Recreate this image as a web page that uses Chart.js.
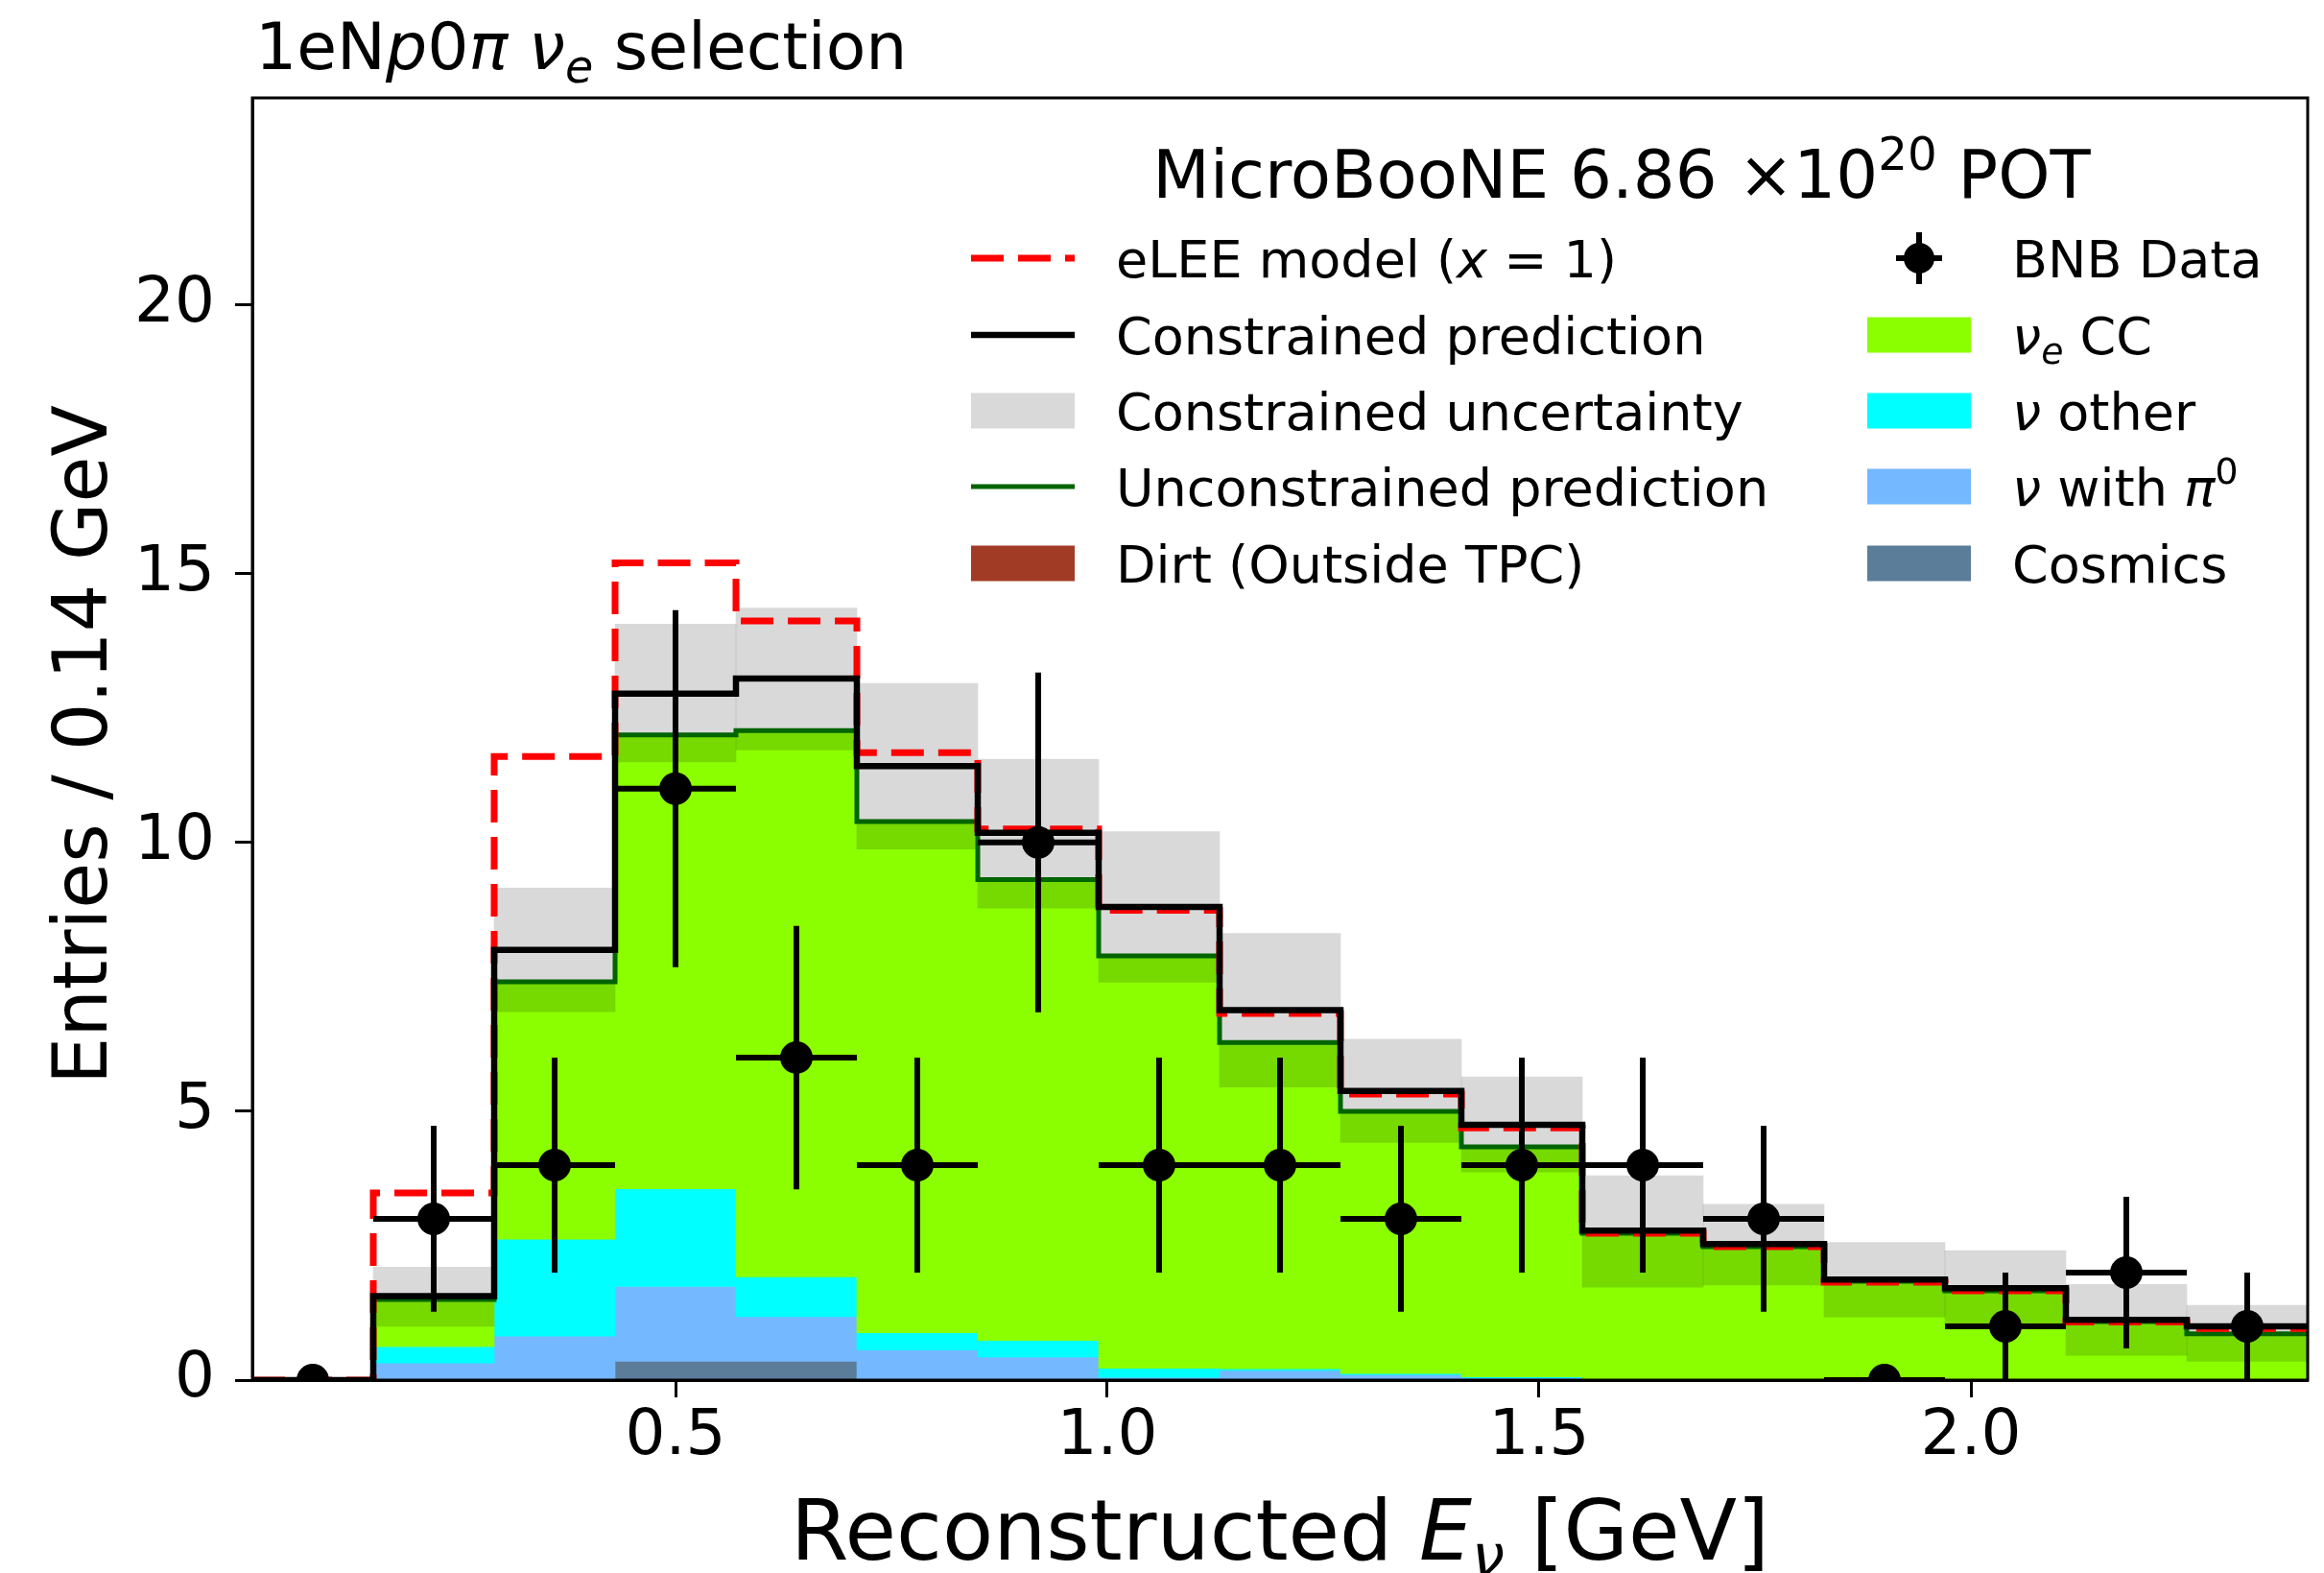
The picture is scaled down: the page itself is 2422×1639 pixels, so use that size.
<!DOCTYPE html>
<html>
<head>
<meta charset="utf-8">
<title>1eNp0π νe selection</title>
<script src="https://cdn.jsdelivr.net/npm/chart.js@4.4.1/dist/chart.umd.min.js"></script>
<style>
  html, body { margin: 0; padding: 0; background: #fff; }
  canvas { display: block; }
</style>
</head>
<body>
<canvas id="chart" width="2422" height="1639"></canvas>
<script>
// binning: 17 bins of 0.14 GeV
const binEdges   = [0.01, 0.15, 0.29, 0.43, 0.57, 0.71, 0.85, 0.99, 1.13, 1.27, 1.41, 1.55, 1.69, 1.83, 1.97, 2.11, 2.25, 2.39];
const binCentres = [0.08, 0.22, 0.36, 0.50, 0.64, 0.78, 0.92, 1.06, 1.20, 1.34, 1.48, 1.62, 1.76, 1.90, 2.04, 2.18, 2.32];
const binHalfWidth = 0.07;

// stacked MC components (entries per bin)
const cosmics = [0, 0, 0, 0.35, 0.35, 0, 0, 0, 0, 0, 0, 0, 0, 0, 0, 0, 0];
const nuPi0   = [0, 0.32, 0.82, 1.39, 0.83, 0.56, 0.43, 0.05, 0.18, 0.10, 0.04, 0, 0, 0, 0, 0, 0];
const nuOther = [0, 0.30, 1.80, 1.82, 0.74, 0.32, 0.31, 0.17, 0.03, 0.02, 0.02, 0, 0, 0, 0, 0, 0];
const nueCC   = [0, 0.88, 4.79, 8.44, 10.16, 9.53, 8.57, 7.67, 6.06, 4.88, 4.28, 2.73, 2.48, 1.84, 1.66, 1.09, 0.86];
const dirt    = [0, 0, 0, 0, 0, 0, 0, 0, 0, 0, 0, 0, 0, 0, 0, 0, 0];

// prediction lines
const unconstrained = [0, 1.50, 7.41, 12.00, 12.08, 10.39, 9.31, 7.89, 6.28, 5.00, 4.34, 2.73, 2.48, 1.84, 1.66, 1.09, 0.86];
const constrained   = [0, 1.56, 8.00, 12.77, 13.05, 11.42, 10.18, 8.80, 6.88, 5.38, 4.75, 2.78, 2.53, 1.87, 1.71, 1.12, 1.00];
const uncLow        = [0, 1.00, 6.85, 11.50, 11.72, 9.88, 8.78, 7.40, 5.45, 4.42, 3.87, 1.73, 1.77, 1.17, 1.03, 0.46, 0.35];
const uncHigh       = [0, 2.10, 9.15, 14.06, 14.36, 12.96, 11.55, 10.20, 8.31, 6.34, 5.64, 3.80, 3.27, 2.56, 2.41, 1.78, 1.39];
const eLEE          = [0, 3.48, 11.60, 15.20, 14.12, 11.67, 10.25, 8.74, 6.82, 5.32, 4.69, 2.73, 2.48, 1.82, 1.66, 1.08, 0.96];

// BNB data
const bnbData = [0, 3, 4, 11, 6, 4, 10, 4, 4, 3, 4, 4, 3, 0, 1, 2, 1];
const bnbErr  = [0, 1.73, 2, 3.32, 2.45, 2, 3.16, 2, 2, 1.73, 2, 2, 1.73, 0, 1, 1.41, 1];

// axes
const xTickValues = [0.5, 1.0, 1.5, 2.0];
const yTickValues = [0, 5, 10, 15, 20];
const xRange = [0.01, 2.39];
const yRange = [0, 23.85];

const FONT = "'DejaVu Sans', 'Noto Sans', sans-serif";
const COLORS = {
  nue: '#8bff00', other: '#00ffff', pi0: '#74b8ff', cosmic: '#5b7d9a', dirt: '#a23b26',
  band: 'rgba(0,0,0,0.15)', bandLegend: '#d9d9d9', green: '#006400', red: '#ff0000'
};

// floating bars for the stack, bottom to top
function buildStack() {
  const parts = [
    ['Cosmics', cosmics, COLORS.cosmic],
    ['ν with π0', nuPi0, COLORS.pi0],
    ['ν other', nuOther, COLORS.other],
    ['νe CC', nueCC, COLORS.nue],
    ['Dirt (Outside TPC)', dirt, COLORS.dirt]
  ];
  let base = binCentres.map(() => 0);
  return parts.map(([label, values, color], k) => {
    const data = binCentres.map((c, i) => ({ x: c, y: [base[i], base[i] + values[i]] }));
    base = base.map((b, i) => b + values[i]);
    return {
      type: 'bar', label, data, backgroundColor: color, borderWidth: 0,
      barPercentage: 1, categoryPercentage: 1, grouped: false, order: 10 - k
    };
  });
}

// histogram outline: one point per left edge plus the last right edge
function stepLine(label, values, color, width, dash, order) {
  const data = binEdges.map((e, i) => ({ x: e, y: values[Math.min(i, values.length - 1)] }));
  return {
    type: 'line', label, data, stepped: 'after', borderColor: color, borderWidth: width,
    borderDash: dash || [], pointRadius: 0, fill: false, order, borderCapStyle: 'butt'
  };
}

function errorBarData() {
  const pts = [];
  bnbData.forEach((d, i) => {
    const c = binCentres[i];
    if (bnbErr[i] > 0) {
      pts.push({ x: c, y: d - bnbErr[i] }, { x: c, y: d + bnbErr[i] }, { x: c, y: null });
    }
    pts.push({ x: c - binHalfWidth, y: d }, { x: c + binHalfWidth, y: d }, { x: c, y: null });
  });
  return pts;
}

// rich text: runs of [text, style]; style: i = italic, b = subscript, p = superscript
function drawRich(ctx, runs, x, y, size, align) {
  const parts = runs.map(([t, st = '']) => {
    const small = st.includes('b') || st.includes('p');
    const s = small ? size * 0.7 : size;
    const font = `${st.includes('i') ? 'italic ' : ''}${s}px ${FONT}`;
    ctx.font = font;
    const dy = st.includes('b') ? size * 0.2 : st.includes('p') ? -size * 0.42 : 0;
    return { t, font, dy, w: ctx.measureText(t).width };
  });
  const total = parts.reduce((a, p) => a + p.w, 0);
  let cx = align === 'center' ? x - total / 2 : align === 'right' ? x - total : x;
  ctx.textAlign = 'left';
  ctx.textBaseline = 'alphabetic';
  parts.forEach(p => { ctx.font = p.font; ctx.fillText(p.t, cx, y + p.dy); cx += p.w; });
}

const legendLeft = [
  { kind: 'dash', color: COLORS.red, label: [['eLEE model ('], ['x', 'i'], [' = 1)']] },
  { kind: 'line', color: '#000', width: 6.5, label: [['Constrained prediction']] },
  { kind: 'patch', color: COLORS.bandLegend, label: [['Constrained uncertainty']] },
  { kind: 'line', color: COLORS.green, width: 5, label: [['Unconstrained prediction']] },
  { kind: 'patch', color: COLORS.dirt, label: [['Dirt (Outside TPC)']] }
];
const legendRight = [
  { kind: 'data', label: [['BNB Data']] },
  { kind: 'patch', color: COLORS.nue, label: [['ν', 'i'], ['e', 'ib'], [' CC']] },
  { kind: 'patch', color: COLORS.other, label: [['ν', 'i'], [' other']] },
  { kind: 'patch', color: COLORS.pi0, label: [['ν', 'i'], [' with '], ['π', 'i'], ['0', 'p']] },
  { kind: 'patch', color: COLORS.cosmic, label: [['Cosmics']] }
];

const LEG = { rows: [269, 349, 428, 507, 587], col1: 1012, col2: 1946, handleW: 108, handleH: 37, gap: 43, size: 54 };

function drawHandle(ctx, item, x, cy) {
  ctx.save();
  if (item.kind === 'patch') {
    ctx.fillStyle = item.color;
    ctx.fillRect(x, cy - LEG.handleH / 2, LEG.handleW, LEG.handleH);
  } else if (item.kind === 'line' || item.kind === 'dash') {
    ctx.strokeStyle = item.color;
    ctx.lineWidth = item.width || 7;
    ctx.setLineDash(item.kind === 'dash' ? [34, 15] : []);
    ctx.beginPath(); ctx.moveTo(x, cy); ctx.lineTo(x + LEG.handleW, cy); ctx.stroke();
  } else if (item.kind === 'data') {
    const mx = x + LEG.handleW / 2;
    ctx.strokeStyle = '#000'; ctx.fillStyle = '#000'; ctx.lineWidth = 6;
    ctx.beginPath(); ctx.moveTo(mx, cy - 27); ctx.lineTo(mx, cy + 27);
    ctx.moveTo(mx - 24, cy); ctx.lineTo(mx + 24, cy); ctx.stroke();
    ctx.beginPath(); ctx.arc(mx, cy, 16, 0, Math.PI * 2); ctx.fill();
  }
  ctx.restore();
}

const decorations = {
  id: 'decorations',
  afterDatasetsDraw(chart) {
    const { ctx, chartArea: a } = chart;
    ctx.save();
    ctx.strokeStyle = '#000';
    ctx.lineWidth = 3;
    ctx.strokeRect(a.left, a.top, a.right - a.left, a.bottom - a.top);
    ctx.restore();
  },
  afterDraw(chart) {
    const { ctx, chartArea: a } = chart;
    ctx.save();
    ctx.fillStyle = '#000';
    // title above the frame
    drawRich(ctx, [['1eN'], ['p', 'i'], ['0'], ['π', 'i'], [' '], ['ν', 'i'], ['e', 'ib'], [' selection']], 266, 72, 68, 'left');
    // exposure label
    drawRich(ctx, [['MicroBooNE 6.86 ×10'], ['20', 'p'], [' POT']], 1690, 206, 69, 'center');
    // legend
    legendLeft.forEach((item, r) => {
      const cy = LEG.rows[r];
      drawHandle(ctx, item, LEG.col1, cy);
      drawRich(ctx, item.label, LEG.col1 + LEG.handleW + LEG.gap, cy + LEG.size * 0.364, LEG.size, 'left');
    });
    legendRight.forEach((item, r) => {
      const cy = LEG.rows[r];
      drawHandle(ctx, item, LEG.col2, cy);
      drawRich(ctx, item.label, LEG.col2 + LEG.handleW + LEG.gap, cy + LEG.size * 0.364, LEG.size, 'left');
    });
    // axis titles
    drawRich(ctx, [['Reconstructed '], ['E', 'i'], ['ν', 'ib'], [' [GeV]']], (a.left + a.right) / 2, 1625, 87, 'center');
    ctx.translate(111, (a.top + a.bottom) / 2 + 6);
    ctx.rotate(-Math.PI / 2);
    drawRich(ctx, [['Entries / 0.14 GeV']], 0, 0, 78, 'center');
    ctx.restore();
  }
};

const datasets = [
  {
    type: 'scatter', label: 'BNB Data', data: binCentres.map((c, i) => ({ x: c, y: bnbData[i] })),
    pointRadius: 17, pointBackgroundColor: '#000', pointBorderWidth: 0, clip: 0, order: 0
  },
  {
    type: 'line', label: 'BNB Data errors', data: errorBarData(), showLine: true, spanGaps: false,
    borderColor: '#000', borderWidth: 6, pointRadius: 0, fill: false, order: 1, borderCapStyle: 'butt'
  },
  stepLine('Constrained prediction', constrained, '#000', 6.5, null, 2),
  stepLine('eLEE model (x = 1)', eLEE, COLORS.red, 7, [34, 15], 3),
  stepLine('Unconstrained prediction', unconstrained, COLORS.green, 5, null, 4),
  {
    type: 'bar', label: 'Constrained uncertainty',
    data: binCentres.map((c, i) => ({ x: c, y: [uncLow[i], uncHigh[i]] })),
    backgroundColor: COLORS.band, borderWidth: 0, barPercentage: 1, categoryPercentage: 1,
    grouped: false, order: 5
  },
  ...buildStack()
];

// Chart.js 'before' steps run horizontally at the previous value first
datasets.forEach(d => { if (d.stepped) d.stepped = 'before'; });

new Chart(document.getElementById('chart'), {
  type: 'bar',
  data: { datasets },
  options: {
    responsive: false,
    devicePixelRatio: 1,
    animation: false,
    events: [],
    layout: { padding: { left: 0, right: 17, top: 102, bottom: 0 } },
    plugins: { legend: { display: false }, tooltip: { enabled: false }, title: { display: false } },
    scales: {
      x: {
        type: 'linear', min: xRange[0], max: xRange[1], offset: false,
        afterBuildTicks: axis => { axis.ticks = xTickValues.map(value => ({ value })); },
        afterFit: scale => { scale.height = 201; },
        ticks: { callback: v => Number(v).toFixed(1), color: '#000', padding: 2, maxRotation: 0,
                 font: { family: FONT, size: 66 } },
        grid: { drawOnChartArea: false, drawTicks: true, tickLength: 18, tickWidth: 3, tickColor: '#000', offset: false },
        border: { display: true, color: '#000', width: 3 }
      },
      y: {
        type: 'linear', min: yRange[0], max: yRange[1],
        afterBuildTicks: axis => { axis.ticks = yTickValues.map(value => ({ value })); },
        afterFit: scale => { scale.width = 263; },
        ticks: { callback: v => String(v), color: '#000', padding: 21, font: { family: FONT, size: 66 } },
        grid: { drawOnChartArea: false, drawTicks: true, tickLength: 18, tickWidth: 3, tickColor: '#000' },
        border: { display: true, color: '#000', width: 3 }
      }
    }
  },
  plugins: [decorations]
});
</script>
</body>
</html>
